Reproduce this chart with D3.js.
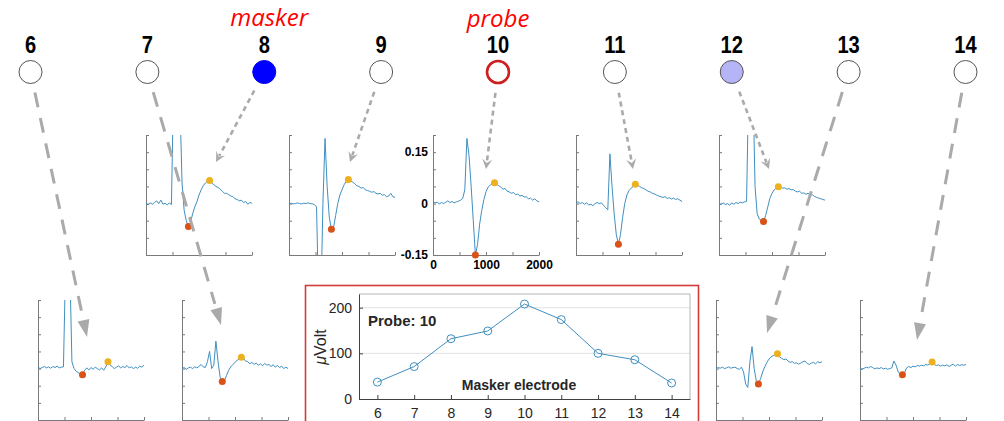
<!DOCTYPE html>
<meta charset="utf-8">
<script src="https://d3js.org/d3.v7.min.js"></script>
<style>
  body { margin: 0; background: #fff; }
  svg { display: block; }
</style>
<div id="chart"></div>
<script>
// electrodes and the probe response for each masker electrode (uV)
var electrodes = [6, 7, 8, 9, 10, 11, 12, 13, 14];
var peakToPeak = [37, 71, 132, 149, 208, 174, 100, 86, 35];
var maskerTicks = [6, 7, 8, 9, 10, 11, 12, 13, 14];
var voltTicks = [0, 100, 200];

// sample times of the recorded traces (ms) and mini-axis ticks
var timeMs = d3.range(0, 2001, 40);
var timeTicks = [0, 500, 1000, 1500, 2000];
var traceTicks = [-0.15, -0.1, -0.05, 0, 0.05, 0.1, 0.15, 0.2];

// recorded traces (mV), one per masker electrode
var trace6 = [0.004, 0.000, 0.003, 0.006, 0.002, 0.005, 0.001, 0.006, 0.003, 0.007,
  0.002, 0.004, 0.005, 0.300, 0.400, 0.300, 0.020, 0.000, -0.008, -0.012,
  -0.016, -0.018, -0.005, 0.002, -0.004, 0.003, -0.002, 0.004, 0.000, -0.004,
  0.002, -0.005, 0.005, 0.020, 0.010, 0.006, 0.000, 0.004, 0.008, 0.002,
  0.006, 0.003, 0.009, 0.002, 0.005, 0.000, 0.004, 0.001, 0.007, 0.004, 0.010];
var trace7 = [0.000, 0.003, -0.002, 0.002, 0.004, 0.000, 0.005, 0.002, 0.006, 0.012,
  0.005, 0.003, 0.020, 0.050, 0.000, 0.010, 0.080, 0.020, -0.025, -0.038,
  -0.035, -0.020, -0.005, 0.005, 0.012, 0.018, 0.024, 0.028, 0.033, 0.030,
  0.022, 0.020, 0.014, 0.018, 0.012, 0.016, 0.010, 0.014, 0.008, 0.015,
  0.010, 0.012, 0.006, 0.011, 0.004, 0.009, 0.003, 0.007, 0.000, 0.004, 0.000];
var trace8 = [0.000, -0.004, 0.002, -0.002, 0.003, 0.008, 0.000, 0.010, -0.002, 0.001,
  -0.004, 0.002, -0.003, 0.350, 0.400, 0.400, 0.300, 0.060, -0.020, -0.050,
  -0.067, -0.055, -0.030, -0.010, 0.005, 0.025, 0.040, 0.052, 0.060, 0.064,
  0.067, 0.060, 0.055, 0.050, 0.047, 0.042, 0.036, 0.030, 0.030, 0.026,
  0.022, 0.020, 0.014, 0.012, 0.008, 0.010, 0.003, 0.006, -0.002, 0.003, 0.001];
var trace9 = [0.000, 0.001, -0.001, 0.000, 0.002, 0.000, -0.001, 0.001, 0.000, 0.002,
  0.000, -0.001, -0.003, -0.010, -0.300, -0.300, 0.000, 0.190, 0.050, -0.040,
  -0.075, -0.070, -0.035, 0.000, 0.025, 0.040, 0.055, 0.065, 0.070, 0.066,
  0.063, 0.058, 0.052, 0.050, 0.045, 0.047, 0.040, 0.038, 0.036, 0.033,
  0.035, 0.030, 0.028, 0.030, 0.024, 0.026, 0.020, 0.022, 0.030, 0.020, 0.018];
var trace10 = [0.005, 0.002, 0.004, -0.001, 0.003, 0.000, 0.004, 0.008, 0.003, 0.006,
  0.002, 0.005, 0.007, 0.010, 0.015, 0.040, 0.190, 0.140, 0.050, -0.050,
  -0.150, -0.120, -0.060, -0.020, 0.012, 0.035, 0.048, 0.054, 0.059, 0.061,
  0.056, 0.052, 0.048, 0.042, 0.044, 0.036, 0.034, 0.030, 0.032, 0.026,
  0.028, 0.022, 0.024, 0.019, 0.020, 0.014, 0.016, 0.010, 0.014, 0.008, 0.005];
var trace11 = [0.002, 0.005, 0.000, 0.003, -0.002, 0.002, -0.004, -0.002, -0.006, 0.000,
  0.003, 0.000, 0.002, -0.005, -0.012, -0.018, 0.145, 0.050, -0.030, -0.090,
  -0.119, -0.090, -0.040, 0.000, 0.025, 0.038, 0.045, 0.050, 0.056, 0.054,
  0.050, 0.046, 0.044, 0.040, 0.036, 0.034, 0.030, 0.028, 0.025, 0.022,
  0.020, 0.018, 0.020, 0.015, 0.017, 0.013, 0.016, 0.012, 0.014, 0.010, 0.006];
var trace12 = [-0.004, -0.002, 0.002, -0.003, 0.000, -0.005, 0.002, -0.002, 0.003, 0.000,
  0.004, 0.002, 0.005, 0.006, 0.350, 0.400, 0.350, 0.050, -0.030, -0.045,
  -0.050, -0.052, -0.035, -0.010, 0.015, 0.030, 0.040, 0.045, 0.049, 0.047,
  0.045, 0.046, 0.042, 0.044, 0.040, 0.041, 0.036, 0.034, 0.036, 0.030,
  0.031, 0.027, 0.030, 0.024, 0.026, 0.021, 0.018, 0.016, 0.014, 0.012, 0.010];
var trace13 = [0.000, 0.003, 0.001, 0.004, 0.000, 0.002, 0.005, 0.001, 0.003, 0.004,
  0.000, -0.002, 0.004, -0.010, -0.045, -0.055, 0.020, 0.064, 0.000, -0.035,
  -0.045, -0.030, -0.010, 0.005, 0.018, 0.028, 0.034, 0.038, 0.040, 0.043,
  0.034, 0.030, 0.026, 0.028, 0.022, 0.018, 0.020, 0.015, 0.017, 0.013,
  0.016, 0.020, 0.022, 0.015, 0.012, 0.016, 0.018, 0.014, 0.020, 0.017, 0.020];
var trace14 = [0.000, -0.002, 0.001, 0.004, 0.002, 0.006, 0.003, -0.001, 0.002, 0.000,
  0.003, -0.001, 0.001, -0.002, 0.000, 0.002, 0.022, 0.010, -0.010, -0.016,
  -0.018, -0.012, 0.002, 0.006, 0.003, 0.007, 0.005, 0.009, 0.007, 0.010,
  0.008, 0.012, 0.010, 0.015, 0.019, 0.012, 0.009, 0.011, 0.007, 0.010,
  0.008, 0.011, 0.006, 0.010, 0.013, 0.007, 0.012, 0.009, 0.011, 0.010, 0.012];

var traces = {6: trace6, 7: trace7, 8: trace8, 9: trace9, 10: trace10,
  11: trace11, 12: trace12, 13: trace13, 14: trace14};

// where each small trace panel sits and where its arrow points
var panels = [
  {e: 6,  x: 38,  y: 300, tip: [87, 337],  long: true},
  {e: 7,  x: 182, y: 300, tip: [221, 325], long: true},
  {e: 8,  x: 146, y: 135, tip: [216, 162], long: false},
  {e: 9,  x: 289, y: 135, tip: [350, 162], long: false},
  {e: 10, x: 433, y: 135, tip: [486, 169], long: false},
  {e: 11, x: 576, y: 135, tip: [633, 169], long: false},
  {e: 12, x: 719, y: 135, tip: [769, 169], long: false},
  {e: 13, x: 716, y: 300, tip: [767, 333], long: true},
  {e: 14, x: 860, y: 300, tip: [917, 340], long: true}
];
var pw = 106, ph = 120;

var lineBlue = "#3f8fc0",
    grey = "#aaaaaa",
    sans = "'Liberation Sans',Arial,sans-serif";

var svg = d3.select("#chart")
  .append("svg")
    .attr("width", 1004)
    .attr("height", 421);

// electrode row
var ex = d3.scaleLinear().domain([6, 14]).range([30.5, 965.5]);
var ecy = 72;

svg.selectAll(".enum")
  .data(electrodes)
  .enter()
  .append("text")
    .attr("transform", function(d) { return "translate(" + ex(d) + ",53) scale(0.84,1)" })
    .attr("text-anchor", "middle")
    .style("font-family", sans)
    .style("font-weight", "bold")
    .style("font-size", "24px")
    .text(function(d) { return d });

svg.selectAll(".ecirc")
  .data(electrodes)
  .enter()
  .append("circle")
    .attr("cx", function(d) { return ex(d) })
    .attr("cy", ecy)
    .attr("r", function(d) { return d == 10 ? 11 : 11.5 })
    .attr("fill", function(d) { return d == 8 ? "#0000ff" : d == 12 ? "#b4b4f6" : "white" })
    .attr("stroke", function(d) { return d == 8 ? "#0000ff" : d == 10 ? "#cc1f1f" : "#555" })
    .attr("stroke-width", function(d) { return d == 10 ? 2.6 : 1 });

svg.append("text")
  .attr("x", ex(8) + 5).attr("y", 26)
  .attr("text-anchor", "middle")
  .style("font-family", "'Open Sans',sans-serif")
  .style("font-style", "italic")
  .style("font-size", "24px")
  .attr("fill", "#ff0000")
  .text("masker");
svg.append("text")
  .attr("x", ex(10)).attr("y", 27)
  .attr("text-anchor", "middle")
  .style("font-family", "'Open Sans',sans-serif")
  .style("font-style", "italic")
  .style("font-size", "24px")
  .attr("fill", "#ff0000")
  .text("probe");

// small trace panels
var defs = svg.append("defs");

panels.forEach(function(p) {
  var data = traces[p.e];
  var x = d3.scaleLinear().domain([0, 2000]).range([p.x, p.x + pw]);
  var y = d3.scaleLinear().domain([-0.15, 0.2]).range([p.y + ph, p.y]);
  var g = svg.append("g");
  var labelled = p.e == 10;

  defs.append("clipPath").attr("id", "clip" + p.e)
    .append("rect")
      .attr("x", p.x).attr("y", p.y).attr("width", pw).attr("height", ph);

  var ax = g.append("g")
    .attr("transform", "translate(0," + (p.y + ph) + ")")
    .call(d3.axisBottom(x).tickValues(timeTicks).tickSizeInner(-3).tickSizeOuter(0).tickPadding(5)
      .tickFormat(function(d) { return labelled && d % 1000 == 0 ? d : "" }));
  var ay = g.append("g")
    .attr("transform", "translate(" + p.x + ",0)")
    .call(d3.axisLeft(y).tickValues(traceTicks).tickSizeInner(-3).tickSizeOuter(0).tickPadding(5)
      .tickFormat(function(d) { return labelled && (d == 0.15 || d == 0 || d == -0.15) ? d : "" }));
  [ax, ay].forEach(function(a) {
    a.select(".domain").attr("stroke", "#7a7a7a");
    a.selectAll(".tick line").attr("stroke", "#7a7a7a");
    a.selectAll("text")
      .style("font-family", sans)
      .style("font-weight", "bold")
      .style("font-size", "12px")
      .attr("fill", "#000");
  });

  g.append("path")
    .datum(data)
    .attr("clip-path", "url(#clip" + p.e + ")")
    .attr("fill", "none")
    .attr("stroke", lineBlue)
    .attr("stroke-width", 1)
    .attr("d", d3.line()
      .x(function(d, i) { return x(timeMs[i]) })
      .y(function(d) { return y(d) }));

  // trough after the stimulus artefact, and the following peak
  var iMin = -1, iMax = -1;
  timeMs.forEach(function(t, i) {
    if (t >= 700 && t <= 1000 && (iMin < 0 || data[i] < data[iMin])) iMin = i;
  });
  timeMs.forEach(function(t, i) {
    if (t > timeMs[iMin] && t <= 1500 && (iMax < 0 || data[i] > data[iMax])) iMax = i;
  });
  g.append("circle")
    .attr("cx", x(timeMs[iMin])).attr("cy", y(data[iMin]))
    .attr("r", 3.5).attr("fill", "#d95319");
  g.append("circle")
    .attr("cx", x(timeMs[iMax])).attr("cy", y(data[iMax]))
    .attr("r", 3.5).attr("fill", "#edb120");
});

// dashed arrows from the electrodes to their traces
panels.forEach(function(p) {
  var cx = ex(p.e), cy = ecy;
  var dx = p.tip[0] - cx, dy = p.tip[1] - cy;
  var len = Math.sqrt(dx * dx + dy * dy);
  var ux = dx / len, uy = dy / len;
  var headL = p.long ? 17 : 10, headW = p.long ? 6 : 5;
  var sx = cx + ux * 21, sy = cy + uy * 21;
  var bx = p.tip[0] - ux * headL, by = p.tip[1] - uy * headL;
  svg.append("line")
    .attr("x1", sx).attr("y1", sy)
    .attr("x2", p.long ? bx - ux * 5 : bx + ux * 3).attr("y2", p.long ? by - uy * 5 : by + uy * 3)
    .attr("stroke", grey)
    .attr("stroke-width", p.long ? 3 : 2.6)
    .attr("stroke-dasharray", p.long ? "15,11" : "5,4");
  var pts = p.long
    ? [[p.tip[0], p.tip[1]], [bx - uy * headW, by + ux * headW], [bx + uy * headW, by - ux * headW]]
    : [[p.tip[0], p.tip[1]], [bx - uy * headW, by + ux * headW],
       [p.tip[0] - ux * headL * 0.6, p.tip[1] - uy * headL * 0.6], [bx + uy * headW, by - ux * headW]];
  svg.append("polygon")
    .attr("points", pts.map(function(q) { return q.join(",") }).join(" "))
    .attr("fill", grey);
});

// summary chart: probe response against masker electrode
svg.append("rect")
  .attr("x", 305.5).attr("y", 285.5)
  .attr("width", 393).attr("height", 160)
  .attr("fill", "white")
  .attr("stroke", "#d43a3a")
  .attr("stroke-width", 1.6);

var mx = d3.scaleLinear().domain([5.5, 14.5]).range([359, 690]);
var my = d3.scaleLinear().domain([0, 230]).range([399, 294]);

svg.append("g")
  .selectAll("line")
  .data([100, 200])
  .enter()
  .append("line")
    .attr("x1", 359).attr("x2", 690)
    .attr("y1", function(d) { return my(d) })
    .attr("y2", function(d) { return my(d) })
    .attr("stroke", "#e3e3e3");

svg.append("path")
  .attr("d", "M359,294H690V399")
  .attr("fill", "none")
  .attr("stroke", "#b5b5b5");

var gx = svg.append("g")
  .attr("transform", "translate(0,399)")
  .call(d3.axisBottom(mx).tickValues(maskerTicks).tickSizeInner(-4).tickSizeOuter(0).tickPadding(9));
var gy = svg.append("g")
  .attr("transform", "translate(359,0)")
  .call(d3.axisLeft(my).tickValues(voltTicks).tickSizeInner(-4).tickSizeOuter(0).tickPadding(7));
[gx, gy].forEach(function(a) {
  a.select(".domain").attr("stroke", "#404040");
  a.selectAll(".tick line").attr("stroke", "#404040");
  a.selectAll("text")
    .style("font-family", sans)
    .style("font-size", "14px")
    .attr("fill", "#262626");
});

svg.append("path")
  .datum(peakToPeak)
  .attr("fill", "none")
  .attr("stroke", lineBlue)
  .attr("stroke-width", 1)
  .attr("d", d3.line()
    .x(function(d, i) { return mx(electrodes[i]) })
    .y(function(d) { return my(d) }));

svg.append("g")
  .selectAll("circle")
  .data(peakToPeak)
  .enter()
  .append("circle")
    .attr("cx", function(d, i) { return mx(electrodes[i]) })
    .attr("cy", function(d) { return my(d) })
    .attr("r", 4)
    .attr("fill", "none")
    .attr("stroke", lineBlue)
    .attr("stroke-width", 1);

svg.append("text")
  .attr("x", 368).attr("y", 326)
  .style("font-family", sans)
  .style("font-weight", "bold")
  .style("font-size", "15px")
  .attr("fill", "#262626")
  .text("Probe: 10");

svg.append("text")
  .attr("x", 519).attr("y", 390)
  .attr("text-anchor", "middle")
  .style("font-family", sans)
  .style("font-weight", "bold")
  .style("font-size", "14px")
  .attr("fill", "#262626")
  .text("Masker electrode");

var yl = svg.append("text")
  .attr("transform", "translate(326,347) rotate(-90)")
  .attr("text-anchor", "middle")
  .style("font-family", sans)
  .style("font-size", "16px")
  .attr("fill", "#262626");
yl.append("tspan").style("font-style", "italic").text("\u03bc");
yl.append("tspan").text("Volt");
</script>
